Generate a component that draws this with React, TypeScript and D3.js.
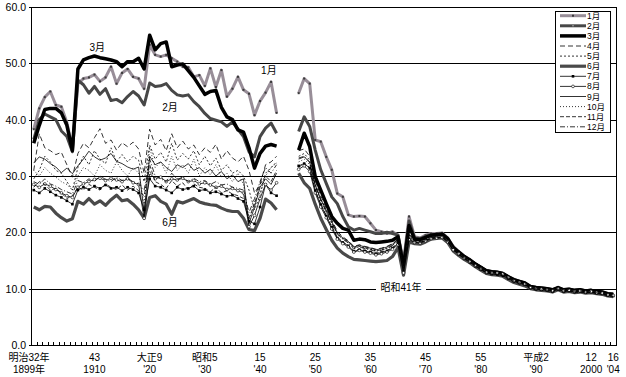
import React from 'react';
import * as d3 from 'd3';

// ---- categories ----
const firstYear = 1899;
const lastYear = 2004;
const years: number[] = d3.range(firstYear, lastYear + 1);

// ---- tick labels ----
const tickYears = [1899, 1910, 1920, 1930, 1940, 1950, 1960, 1970, 1980, 1990, 2000, 2004];
const tickEra = ['明治32年', '43', '大正9', '昭和5', '15', '25', '35', '45', '55', '平成2', '12', '16'];
const tickWestern = ['1899年', '1910', "'20", "'30", "'40", "'50", "'60", "'70", "'80", "'90", '2000', "'04"];
const yTicks = [0, 10, 20, 30, 40, 50, 60];

// gap years 1944-1946 have no data
const gap = [null, null, null];

// ---- series values: 1899-1943 (pre) and 1947-2004 (post) ----
const janPre = [38.3, 42.0, 44.0, 45.0, 42.6, 42.3, 39.5, 35.0, 46.4, 47.3,
  47.5, 48.0, 46.8, 47.5, 49.4, 46.4, 48.3, 49.0, 47.6, 47.3,
  45.5, 53.3, 51.5, 51.2, 51.5, 50.9, 50.3, 49.4, 49.3, 47.6,
  47.9, 46.0, 49.1, 45.8, 48.8, 44.1, 45.5, 47.6, 45.3, 44.6,
  40.8, 43.3, 44.8, 46.7, 41.2];
const janPost = [44.7, 47.3, 46.4, 36.4, 36.1, 33.4, 31.1, 26.9, 26.3, 23.1,
  22.8, 22.9, 22.8, 21.6, 20.4, 20.1, 19.8, 20.1, 19.5, 14.8,
  22.8, 19.2, 19.0, 19.5, 19.8, 19.8, 19.9, 19.0, 17.5, 16.6,
  15.8, 15.2, 14.4, 13.8, 13.2, 13.0, 12.9, 12.6, 12.1, 11.5,
  11.2, 10.9, 10.3, 10.1, 9.9, 9.8, 9.6, 10.0, 9.7, 9.7,
  9.5, 9.6, 9.4, 9.5, 9.3, 9.2, 8.9, 8.8];

const febPre = [36.5, 40.0, 41.0, 40.5, 40.0, 38.0, 37.0, 34.3, 47.0, 46.2,
  44.7, 45.9, 44.5, 45.5, 43.4, 43.6, 43.0, 44.1, 45.0, 44.2,
  42.6, 46.5, 45.9, 46.0, 46.4, 45.2, 44.4, 44.2, 44.4, 43.2,
  42.3, 41.1, 40.2, 39.9, 39.6, 38.8, 39.6, 38.3, 37.0, 34.3,
  33.4, 37.0, 38.5, 39.4, 37.6];
const febPost = [37.9, 40.5, 38.8, 34.6, 31.1, 28.7, 26.3, 25.1, 22.8, 21.0,
  20.4, 20.7, 20.4, 20.1, 19.8, 19.8, 20.0, 19.8, 19.5, 14.3,
  22.0, 19.0, 18.9, 19.3, 19.6, 19.6, 19.7, 18.9, 17.4, 16.5,
  15.7, 15.1, 14.4, 13.8, 13.1, 12.9, 12.8, 12.6, 12.0, 11.5,
  11.2, 10.9, 10.3, 10.1, 10.0, 9.9, 9.7, 10.1, 9.7, 9.8,
  9.6, 9.7, 9.5, 9.6, 9.4, 9.3, 9.0, 8.9];

const marPre = [35.8, 39.0, 41.8, 42.0, 42.0, 41.2, 39.0, 34.5, 49.0, 50.6,
  51.0, 51.3, 51.0, 50.8, 50.6, 50.3, 49.4, 50.3, 50.3, 50.9,
  49.0, 55.0, 52.4, 53.5, 53.8, 49.4, 49.7, 49.9, 48.7, 47.5,
  46.0, 44.5, 45.0, 45.2, 42.2, 40.5, 40.0, 38.2, 37.8, 35.0,
  31.4, 34.0, 35.3, 35.6, 35.3];
const marPost = [34.6, 37.6, 35.2, 29.9, 27.5, 25.1, 22.8, 21.6, 20.7, 20.4,
  18.6, 18.8, 18.7, 18.3, 18.2, 18.3, 18.4, 18.6, 19.2, 13.8,
  21.2, 18.8, 18.7, 19.1, 19.5, 19.6, 19.7, 18.9, 17.3, 16.5,
  15.7, 15.1, 14.4, 13.8, 13.2, 13.0, 12.9, 12.7, 12.1, 11.6,
  11.3, 11.0, 10.4, 10.2, 10.1, 10.0, 9.8, 10.2, 9.8, 9.9,
  9.7, 9.8, 9.6, 9.7, 9.5, 9.4, 9.1, 9.0];

const aprPre = [31.0, 37.5, 35.0, 34.5, 33.8, 34.2, 32.0, 29.8, 34.0, 35.8,
  35.0, 36.8, 38.4, 35.8, 36.4, 34.6, 35.9, 35.2, 36.0, 34.8,
  30.5, 38.3, 35.5, 36.5, 34.5, 37.5, 35.0, 36.2, 34.8, 35.5,
  33.8, 35.0, 34.2, 35.6, 33.0, 34.5, 33.2, 32.5, 33.5, 31.0,
  27.0, 28.5, 32.0, 32.5, 33.5];
const aprPost = [34.5, 34.8, 33.5, 29.2, 26.5, 24.3, 22.2, 20.2, 19.2, 18.5,
  17.5, 17.8, 17.5, 17.3, 17.0, 17.2, 17.5, 18.0, 18.8, 13.2,
  19.5, 18.8, 18.7, 19.1, 19.5, 19.6, 19.7, 18.9, 17.4, 16.6,
  15.8, 15.2, 14.5, 13.9, 13.3, 13.1, 13.0, 12.8, 12.2, 11.7,
  11.4, 11.1, 10.5, 10.3, 10.2, 10.1, 9.9, 10.3, 9.9, 10.0,
  9.8, 9.9, 9.7, 9.8, 9.6, 9.5, 9.2, 9.1];

const mayPre = [29.5, 31.0, 33.5, 32.5, 31.0, 30.5, 29.0, 27.5, 31.5, 33.5,
  32.0, 34.5, 33.0, 32.2, 35.0, 32.5, 33.8, 32.5, 33.5, 32.8,
  29.0, 35.5, 33.0, 34.2, 32.5, 35.8, 32.8, 34.0, 33.0, 34.5,
  32.0, 33.5, 31.8, 33.2, 31.0, 32.0, 30.5, 31.0, 30.0, 27.5,
  24.0, 26.5, 30.5, 31.5, 32.5];
const mayPost = [33.5, 34.0, 32.8, 28.6, 26.0, 23.9, 21.8, 19.8, 18.9, 18.3,
  17.3, 17.5, 17.2, 17.0, 16.7, 16.9, 17.2, 17.7, 18.5, 13.0,
  19.2, 18.6, 18.5, 18.9, 19.3, 19.4, 19.5, 18.7, 17.2, 16.4,
  15.6, 15.0, 14.3, 13.7, 13.1, 12.9, 12.8, 12.6, 12.0, 11.5,
  11.2, 10.9, 10.3, 10.1, 10.0, 9.9, 9.7, 10.1, 9.7, 9.8,
  9.6, 9.7, 9.5, 9.6, 9.4, 9.3, 9.0, 8.9];

const junPre = [24.5, 24.0, 24.6, 24.5, 23.4, 22.6, 22.0, 22.4, 25.5, 25.0,
  26.0, 25.0, 25.6, 24.8, 25.8, 26.6, 25.6, 25.8, 25.0, 24.0,
  22.5, 26.2, 26.5, 25.5, 25.0, 23.2, 25.5, 25.2, 25.6, 26.0,
  25.4, 25.1, 24.9, 24.8, 24.3, 23.9, 23.7, 23.7, 22.5, 20.5,
  20.3, 22.5, 25.9, 25.2, 24.0];
const junPost = [30.5, 28.8, 27.8, 25.0, 22.5, 20.5, 18.6, 17.2, 16.3, 15.7,
  15.2, 15.1, 15.0, 14.9, 14.8, 14.9, 15.0, 15.7, 17.3, 12.4,
  18.3, 18.0, 17.9, 18.3, 18.8, 18.9, 19.0, 18.2, 16.7, 15.9,
  15.2, 14.6, 13.9, 13.3, 12.7, 12.5, 12.4, 12.2, 11.6, 11.1,
  10.8, 10.5, 10.0, 9.8, 9.7, 9.6, 9.4, 9.8, 9.4, 9.5,
  9.3, 9.4, 9.2, 9.3, 9.1, 9.0, 8.7, 8.6];

const julPre = [27.5, 27.0, 27.8, 27.2, 26.6, 26.2, 25.6, 25.0, 27.5, 28.0,
  27.6, 28.2, 27.8, 28.4, 27.8, 28.0, 27.4, 28.0, 27.6, 27.0,
  24.0, 29.5, 28.2, 28.0, 27.5, 27.0, 28.0, 27.6, 27.8, 28.2,
  27.4, 27.6, 27.0, 27.2, 26.8, 26.4, 26.6, 26.0, 25.5, 22.0,
  21.5, 24.5, 28.5, 27.0, 26.5];
const julPost = [31.8, 32.2, 31.4, 27.4, 24.9, 22.9, 20.9, 19.0, 18.2, 17.6,
  16.6, 16.9, 16.7, 16.5, 16.2, 16.4, 16.7, 17.2, 18.0, 13.0,
  18.8, 18.3, 18.2, 18.6, 19.0, 19.1, 19.2, 18.4, 16.9, 16.1,
  15.3, 14.7, 14.0, 13.4, 12.8, 12.6, 12.5, 12.3, 11.8, 11.3,
  11.0, 10.7, 10.1, 9.9, 9.8, 9.7, 9.5, 9.9, 9.5, 9.6,
  9.4, 9.5, 9.3, 9.4, 9.2, 9.1, 8.8, 8.7];

const augPre = [28.5, 28.0, 28.6, 28.2, 27.6, 27.0, 26.5, 26.2, 28.0, 28.6,
  29.0, 29.4, 29.6, 29.2, 29.6, 29.3, 29.0, 29.5, 28.8, 28.5,
  22.5, 30.5, 29.5, 29.8, 29.0, 29.5, 29.3, 29.6, 29.0, 29.2,
  28.6, 28.8, 28.4, 28.0, 28.2, 27.6, 27.8, 27.4, 27.0, 21.0,
  23.0, 26.0, 28.5, 27.5, 28.8];
const augPost = [31.2, 31.8, 30.8, 27.0, 24.5, 22.6, 20.6, 18.8, 18.0, 17.4,
  16.5, 16.8, 16.5, 16.3, 16.0, 16.2, 16.5, 17.0, 17.8, 12.8,
  18.7, 18.2, 18.1, 18.5, 18.9, 19.0, 19.1, 18.3, 16.9, 16.2,
  15.4, 14.8, 14.1, 13.5, 12.9, 12.8, 12.8, 12.6, 12.0, 11.4,
  11.1, 10.8, 10.2, 10.0, 9.9, 9.8, 9.6, 10.0, 9.6, 9.7,
  9.5, 9.6, 9.4, 9.5, 9.3, 9.2, 8.9, 8.8];

const sepPre = [32.3, 33.4, 33.0, 32.2, 31.6, 30.6, 31.4, 30.4, 31.8, 33.0,
  34.4, 33.4, 32.8, 33.2, 34.0, 32.6, 32.2, 31.6, 31.2, 31.6,
  23.5, 33.5, 32.0, 32.5, 31.5, 30.8, 32.0, 31.5, 32.2, 31.0,
  31.5, 30.5, 31.2, 30.0, 30.8, 29.5, 30.2, 29.0, 29.5, 21.5,
  24.5, 28.0, 29.5, 28.5, 30.5];
const sepPost = [33.0, 33.4, 32.5, 28.4, 25.9, 23.9, 21.9, 19.9, 19.0, 18.4,
  17.4, 17.7, 17.4, 17.2, 16.9, 17.1, 17.4, 17.9, 18.7, 13.6,
  19.6, 18.9, 18.8, 19.2, 19.6, 19.7, 19.8, 19.0, 17.5, 16.7,
  15.9, 15.3, 14.6, 14.0, 13.4, 13.2, 13.1, 12.9, 12.3, 11.8,
  11.5, 11.2, 10.6, 10.4, 10.3, 10.2, 10.0, 10.4, 10.0, 10.1,
  9.9, 10.0, 9.8, 9.9, 9.7, 9.6, 9.3, 9.2];

const octPre = [31.0, 30.0, 31.5, 30.5, 29.8, 29.0, 28.5, 27.5, 30.0, 31.5,
  31.0, 30.0, 32.0, 31.0, 30.5, 32.5, 31.0, 30.0, 31.5, 30.5,
  25.0, 35.0, 31.5, 32.5, 30.5, 33.5, 31.0, 32.0, 30.5, 33.0,
  30.0, 31.5, 30.2, 32.0, 29.8, 30.5, 29.0, 30.5, 28.5, 22.0,
  25.5, 27.0, 30.0, 31.5, 32.3];
const octPost = [32.5, 33.0, 32.0, 28.0, 25.5, 23.5, 21.5, 19.6, 18.8, 18.2,
  17.2, 17.5, 17.2, 17.0, 16.7, 16.9, 17.2, 17.7, 18.5, 13.9,
  19.4, 18.7, 18.6, 19.0, 19.4, 19.5, 19.6, 18.8, 17.3, 16.5,
  15.7, 15.1, 14.4, 13.8, 13.2, 13.0, 12.9, 12.7, 12.1, 11.6,
  11.3, 11.0, 10.4, 10.2, 10.1, 10.0, 9.8, 10.2, 9.8, 9.9,
  9.7, 9.8, 9.6, 9.7, 9.5, 9.4, 9.1, 9.0];

const novPre = [28.0, 29.0, 28.5, 27.5, 27.8, 27.0, 26.0, 26.5, 28.0, 27.5,
  28.5, 28.0, 27.5, 28.6, 28.0, 27.6, 28.4, 27.5, 28.2, 27.4,
  26.5, 32.0, 29.0, 28.5, 27.8, 29.2, 28.2, 28.8, 27.5, 28.6,
  28.0, 27.8, 27.2, 28.0, 27.0, 27.4, 26.8, 26.5, 26.0, 22.5,
  25.0, 28.5, 30.0, 29.0, 31.0];
const novPost = [31.5, 32.3, 31.5, 27.5, 25.0, 23.0, 21.0, 19.2, 18.3, 17.7,
  16.8, 17.0, 16.8, 16.6, 16.3, 16.5, 16.8, 17.3, 18.1, 14.0,
  19.0, 18.3, 18.2, 18.6, 19.0, 19.1, 19.2, 18.4, 16.9, 16.1,
  15.3, 14.7, 14.0, 13.4, 12.8, 12.6, 12.5, 12.3, 11.7, 11.2,
  10.9, 10.6, 10.0, 9.8, 9.7, 9.6, 9.4, 9.8, 9.4, 9.5,
  9.3, 9.4, 9.2, 9.3, 9.1, 9.0, 8.7, 8.6];

const decPre = [29.0, 28.5, 29.5, 28.6, 28.2, 27.6, 27.2, 26.8, 29.2, 28.8,
  29.5, 29.0, 30.0, 29.4, 29.0, 29.8, 29.2, 29.6, 29.0, 28.6,
  27.5, 33.0, 30.0, 29.5, 29.0, 30.5, 29.4, 29.8, 29.0, 29.6,
  29.0, 29.2, 28.5, 29.0, 28.4, 28.6, 28.0, 27.8, 27.5, 23.5,
  26.0, 29.0, 31.5, 30.5, 32.0];
const decPost = [33.2, 33.5, 32.4, 28.3, 25.7, 23.6, 21.6, 19.7, 18.8, 18.1,
  17.1, 17.4, 17.1, 16.9, 16.6, 16.8, 17.1, 17.6, 18.8, 14.4,
  19.2, 18.5, 18.4, 18.8, 19.2, 19.3, 19.4, 18.6, 17.1, 16.3,
  15.5, 14.9, 14.2, 13.6, 13.0, 12.8, 12.7, 12.5, 11.9, 11.4,
  11.1, 10.8, 10.2, 10.0, 9.9, 9.8, 9.6, 10.0, 9.6, 9.7,
  9.5, 9.6, 9.4, 9.5, 9.3, 9.2, 8.9, 8.8];

type Marker = 'none' | 'dot' | 'square' | 'circle' | 'whitedot';
interface Series { name: string; values: (number | null)[]; color: string; width: number; dash?: string; marker: Marker; }

const join = (a: number[], b: number[]) => [...a, ...gap, ...b];

const series: Series[] = [
  { name: '1月', values: join(janPre, janPost), color: '#988e98', width: 3, marker: 'dot' },
  { name: '2月', values: join(febPre, febPost), color: '#474747', width: 3, marker: 'whitedot' },
  { name: '3月', values: join(marPre, marPost), color: '#000000', width: 3.5, marker: 'none' },
  { name: '4月', values: join(aprPre, aprPost), color: '#000000', width: 0.8, dash: '5,3', marker: 'none' },
  { name: '5月', values: join(mayPre, mayPost), color: '#000000', width: 0.8, dash: '2,2', marker: 'none' },
  { name: '6月', values: join(junPre, junPost), color: '#4a4a4a', width: 3.2, marker: 'none' },
  { name: '7月', values: join(julPre, julPost), color: '#000000', width: 0.8, marker: 'square' },
  { name: '8月', values: join(augPre, augPost), color: '#000000', width: 0.8, marker: 'circle' },
  { name: '9月', values: join(sepPre, sepPost), color: '#000000', width: 0.8, marker: 'none' },
  { name: '10月', values: join(octPre, octPost), color: '#000000', width: 0.8, dash: '1,2', marker: 'none' },
  { name: '11月', values: join(novPre, novPost), color: '#000000', width: 0.8, dash: '4,2', marker: 'none' },
  { name: '12月', values: join(decPre, decPost), color: '#000000', width: 0.8, dash: '5,2,1,2', marker: 'none' },
];

const FONT = "'Liberation Sans', 'Noto Sans CJK JP', sans-serif";

export default function App() {
  const W = 626, H = 377;
  const left = 31, right = 616, top = 7, bottom = 345;
  const x = d3.scaleBand<number>().domain(years).range([left, right]).padding(0);
  const y = d3.scaleLinear().domain([0, 60]).range([bottom, top]);
  const cx = (yr: number) => (x(yr) as number) + x.bandwidth() / 2;

  const line = d3.line<number | null>()
    .defined(d => d != null)
    .x((_d, i) => cx(years[i]))
    .y(d => y(d as number));

  const boundaries = [...years.map(yr => x(yr) as number), right];

  const legendX = 555.5, legendY = 11.5, legendW = 55, legendH = 121;
  const rowH = 10.1;

  const renderMarker = (m: Marker, px: number, py: number, key: string) => {
    if (m === 'dot') return <rect key={key} x={px - 1} y={py - 1} width={2} height={2} fill="#3a3a3a" />;
    if (m === 'square') return <rect key={key} x={px - 1.3} y={py - 1.3} width={2.6} height={2.6} fill="#000" />;
    if (m === 'circle') return <circle key={key} cx={px} cy={py} r={1.4} fill="#fff" stroke="#000" strokeWidth={0.6} />;
    if (m === 'whitedot') return <rect key={key} x={px - 0.5} y={py - 0.5} width={1} height={1} fill="#fff" />;
    return null;
  };

  return (
    <div style={{ position: 'absolute', left: 0, top: 0, width: W, height: H, background: '#fff' }}>
      <svg width={W} height={H} viewBox={`0 0 ${W} ${H}`} style={{ display: 'block', fontFamily: FONT }}>
        <rect x={0} y={0} width={W} height={H} fill="#fff" />
        {/* grid lines */}
        {yTicks.filter(t => t > 0).map(t => (
          <line key={'g' + t} x1={left - 2} x2={right} y1={Math.round(y(t)) + 0.5} y2={Math.round(y(t)) + 0.5}
            stroke="#000" strokeWidth={1} />
        ))}
        {/* axes */}
        <line x1={left + 0.5} x2={left + 0.5} y1={top} y2={bottom + 0.5} stroke="#000" strokeWidth={1} />
        <line x1={right + 0.5} x2={right + 0.5} y1={top} y2={bottom + 0.5} stroke="#000" strokeWidth={1} />
        <line x1={left - 2} x2={right + 1} y1={bottom + 0.5} y2={bottom + 0.5} stroke="#000" strokeWidth={1} />
        {boundaries.map((bx, i) => (
          <line key={'t' + i} x1={Math.round(bx) + 0.5} x2={Math.round(bx) + 0.5} y1={bottom} y2={bottom - 3}
            stroke="#000" strokeWidth={1} />
        ))}
        {/* y labels */}
        {yTicks.map(t => (
          <text key={'yl' + t} x={26} y={y(t)} textAnchor="end" dominantBaseline="central" fontSize={10.5} fill="#000">
            {d3.format('.1f')(t)}
          </text>
        ))}
        {/* x labels */}
        {tickYears.map((yr, i) => {
          const px = i === 0 ? 29 : cx(yr);
          return (
            <g key={'xl' + yr}>
              <text x={px} y={361} textAnchor="middle" fontSize={10} fill="#000">{tickEra[i]}</text>
              <text x={px} y={373} textAnchor="middle" fontSize={10} fill="#000">{tickWestern[i]}</text>
            </g>
          );
        })}
        {/* annotation for 1966 */}
        <rect x={376} y={283} width={50} height={12} fill="#fff" />
        <text x={401} y={y(9.6)} textAnchor="middle" fontSize={10} fill="#000">昭和41年</text>
        {/* series */}
        {series.map(s => (
          <g key={s.name}>
            <path d={line(s.values) || ''} fill="none" stroke={s.color} strokeWidth={s.width}
              strokeDasharray={s.dash} strokeLinejoin="round" />
            {s.marker !== 'none' && s.marker !== 'whitedot' && s.values.map((v, i) =>
              v == null ? null : renderMarker(s.marker, cx(years[i]), y(v), s.name + i))}
          </g>
        ))}
        {/* in-plot month labels */}
        <text x={cx(1910) + x.bandwidth() / 2} y={y(52.2)} textAnchor="middle" fontSize={10} fill="#000">3月</text>
        <text x={cx(1923) + x.bandwidth() * 0.7} y={y(41.5)} textAnchor="middle" fontSize={10} fill="#000">2月</text>
        <text x={cx(1941) + x.bandwidth() * 0.6} y={y(48.1)} textAnchor="middle" fontSize={10} fill="#000">1月</text>
        <text x={cx(1923) + x.bandwidth() * 0.7} y={y(21.1)} textAnchor="middle" fontSize={10} fill="#000">6月</text>
        {/* legend */}
        <rect x={legendX} y={legendY} width={legendW} height={legendH} fill="#fff" stroke="#000" strokeWidth={1} />
        {series.map((s, i) => {
          const ly = 15.7 + i * rowH;
          return (
            <g key={'lg' + s.name}>
              <line x1={560} x2={586} y1={ly} y2={ly} stroke={s.color} strokeWidth={s.width}
                strokeDasharray={s.dash} />
              {renderMarker(s.marker, 573, ly, 'lm' + i)}
              <text x={587} y={ly} dominantBaseline="central" fontSize={8.5} fill="#000">{s.name}</text>
            </g>
          );
        })}
      </svg>
    </div>
  );
}
